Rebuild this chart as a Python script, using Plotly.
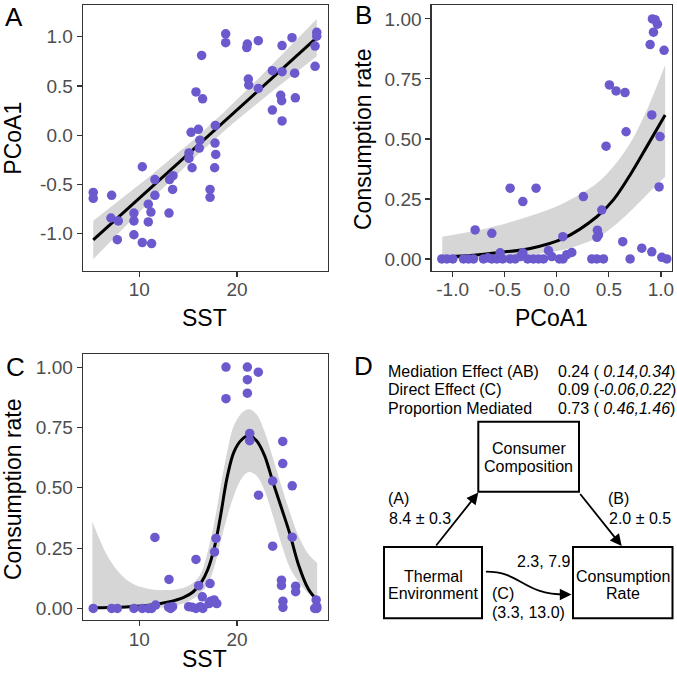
import numpy as np
import plotly.graph_objects as go

W, H = 677, 682
FONT = "Liberation Sans, Arial, Helvetica, sans-serif"
PT_COLOR = "#6A5ACD"
RIBBON = "rgba(153,153,153,0.4)"

# ---------------- Panel A data: SST vs PCoA1 ----------------
sst_a = [5.29, 5.29, 7.17, 7.10, 7.85, 7.75, 9.45, 9.45, 9.45, 10.31, 10.31, 11.26,
         10.92, 11.19, 10.92, 11.6, 11.6, 13.04, 13.10, 13.45, 13.41, 15.08, 15.08,
         15.30, 16.05, 15.40, 15.80, 16.48, 16.20, 16.14, 16.38, 17.78, 17.75, 17.82,
         17.71, 17.24, 17.24, 18.84, 18.84, 21.06, 21.00, 22.18, 21.16, 21.20, 22.18,
         23.62, 23.62, 24.61, 24.61, 24.47, 24.57, 24.61, 25.63, 25.90, 25.97, 28.16,
         28.16, 27.99, 27.99]
pcoa_a = [-0.58, -0.64, -0.61, -0.84, -0.87, -1.06, -0.79, -0.87, -1.01, -0.32, -1.09, -1.10,
          -0.70, -0.78, -0.88, -0.45, -0.61, -0.79, -0.45, -0.41, -0.55, -0.18, -0.235,
          0.03, 0.06, -0.33, 0.44, 0.37, -0.05, -0.13, 0.81, 0.10, -0.08, -0.195,
          -0.33, -0.55, -0.63, 1.03, 0.94, 0.925, 0.89, 0.96, 0.57, 0.51, 0.475,
          0.655, 0.255, 0.91, 0.645, 0.405, 0.35, 0.145, 0.99, 0.63, 0.38, 1.045,
          1.005, 0.905, 0.70]

# ---------------- Panel B data: PCoA1 vs consumption rate ----------------
pcoa_b = [-1.104, -1.056, -0.998, -0.896, -0.848, -0.800, -0.704, -0.660, -0.624, -0.576,
          -0.544, -0.520, -0.448, -0.400, -0.350, -0.326, -0.280, -0.224, -0.176, -0.128,
          -0.080, -0.048, 0.025, 0.060, 0.096, 0.144, 0.336, 0.384, 0.448, 0.704,
          1.008, 1.056,
          -0.784, -0.624, -0.448, -0.326, -0.199, 0.058, 0.255, 0.432, 0.390, 0.400,
          0.385, 0.473, 0.505, 0.569, 0.655, 0.665, 0.633, 0.816, 0.912, 0.912,
          0.991, 0.982, 0.918, 0.944, 0.966, 0.928, 0.896, 1.030]
cons_b = [0.0, 0.0, 0.0, 0.0, 0.0, 0.0, 0.0, 0.005, 0.0, 0.0,
          0.026, 0.0, 0.0, 0.0, 0.01, 0.026, 0.0, 0.0, 0.0, 0.0,
          0.035, 0.01, 0.0, 0.0, 0.018, 0.027, 0.0, 0.0, 0.0, 0.0,
          0.007, 0.0,
          0.121, 0.107, 0.295, 0.239, 0.295, 0.093, 0.26, 0.204, 0.12, 0.10,
          0.09, 0.47, 0.725, 0.70, 0.693, 0.53, 0.072, 0.045, 0.030, 0.60,
          0.51, 0.30, 1.0, 0.997, 0.978, 0.945, 0.893, 0.869]

# fitted curve and confidence band
fitx_b = [-1.10, -0.80, -0.576, -0.256, 0.064, 0.384, 0.543, 0.704, 0.864, 1.04]
fit_b = [0.008, 0.016, 0.026, 0.044, 0.086, 0.176, 0.246, 0.35, 0.468, 0.60]
hi_b = [0.093, 0.115, 0.138, 0.179, 0.232, 0.315, 0.385, 0.482, 0.62, 0.808]
lo_b = [0.0, 0.002, 0.006, 0.017, 0.038, 0.087, 0.135, 0.198, 0.268, 0.343]

# ---------------- Panel C data: SST vs consumption rate ----------------
sst_c = [5.29, 7.17, 7.75, 9.45, 10.31, 10.92, 11.26, 11.67, 13.0, 13.41, 13.2,
         15.05, 15.4, 15.8, 16.25, 16.5, 17.14, 17.66, 17.93, 16.45, 17.3,
         11.6, 13.04, 15.8, 16.08, 17.24, 17.7, 17.85,
         18.87, 18.87, 21.06, 21.06, 21.06, 22.18, 21.3, 21.3, 22.2,
         23.65, 23.65, 24.68, 24.68, 24.55, 24.55, 24.7, 24.7,
         25.65, 25.65, 26.0, 26.0, 28.1, 28.16, 28.16, 27.95]
cons_c = [0.0, 0.0, 0.0, 0.0, 0.0, 0.0, 0.0, 0.014, 0.005, 0.007, 0.0,
          0.007, 0.005, 0.0, 0.007, 0.0, 0.02, 0.035, 0.02, 0.048, 0.03,
          0.294, 0.12, 0.203, 0.094, 0.103, 0.234, 0.29,
          1.0, 0.869, 1.0, 0.948, 0.892, 0.979, 0.725, 0.695, 0.469,
          0.528, 0.258, 0.692, 0.6, 0.117, 0.095, 0.03, 0.004,
          0.508, 0.295, 0.092, 0.069, 0.035, 0.007, 0.0, 0.0]

fitx_c = [5.2, 7.0, 9.0, 11.0, 13.0, 14.5, 15.5, 16.3, 17.0, 17.7, 18.3, 19.0,
          19.7, 20.5, 21.2, 22.0, 22.8, 23.7, 24.6, 25.4, 26.3, 27.3, 28.2]
fit_c = [0.003, 0.004, 0.007, 0.013, 0.027, 0.045, 0.068, 0.105, 0.16, 0.255, 0.38, 0.545,
         0.65, 0.70, 0.715, 0.695, 0.635, 0.52, 0.41, 0.31, 0.18, 0.08, 0.033]
hi_c = [0.36, 0.20, 0.11, 0.08, 0.076, 0.085, 0.105, 0.145, 0.235, 0.36, 0.50, 0.65,
        0.76, 0.81, 0.825, 0.805, 0.735, 0.62, 0.50, 0.40, 0.30, 0.225, 0.188]
lo_c = [0.0, 0.0, 0.001, 0.002, 0.006, 0.02, 0.04, 0.065, 0.10, 0.175, 0.275, 0.38,
        0.47, 0.54, 0.565, 0.55, 0.49, 0.38, 0.26, 0.17, 0.11, 0.062, 0.038]

# tick labels
ticks_sst = [10, 20]
ticklab_sst = ["10", "20"]
ticks_pcoa = [-1.0, -0.5, 0.0, 0.5, 1.0]
ticklab_pcoa = ["-1.0", "-0.5", "0.0", "0.5", "1.0"]
ticks_rate = [0.0, 0.25, 0.5, 0.75, 1.0]
ticklab_rate = ["0.00", "0.25", "0.50", "0.75", "1.00"]

# mediation summary (panel D)
med_labels = ["Mediation Effect (AB)", "Direct Effect (C)", "Proportion Mediated"]
med_values = ["0.24 ( <i>0.14,0.34</i>)", "0.09 (<i>-0.06,0.22</i>)", "0.73 ( <i>0.46,1.46</i>)"]

# ---------------- helpers ----------------
def px(x):
    return x / W

def py(y):
    return 1 - y / H

fig = go.Figure()

# Panel A: linear model fit with 95% CI
xa = np.array(sst_a)
ya = np.array(pcoa_a)
n = len(xa)
b1, b0 = np.polyfit(xa, ya, 1)
resid = ya - (b0 + b1 * xa)
s = np.sqrt(np.sum(resid ** 2) / (n - 2))
xm = xa.mean()
sxx = np.sum((xa - xm) ** 2)
xg = np.linspace(xa.min(), xa.max(), 120)
yg = b0 + b1 * xg
half = 2.0 * s * np.sqrt(1.0 / n + (xg - xm) ** 2 / sxx)

fig.add_trace(go.Scatter(x=xg, y=yg - half, mode="lines", line=dict(width=0),
                         xaxis="x", yaxis="y", hoverinfo="skip"))
fig.add_trace(go.Scatter(x=xg, y=yg + half, mode="lines", line=dict(width=0),
                         fill="tonexty", fillcolor=RIBBON, xaxis="x", yaxis="y", hoverinfo="skip"))
fig.add_trace(go.Scatter(x=xg, y=yg, mode="lines", line=dict(color="black", width=3),
                         xaxis="x", yaxis="y"))
fig.add_trace(go.Scatter(x=sst_a, y=pcoa_a, mode="markers",
                         marker=dict(color=PT_COLOR, size=9.5, line=dict(width=0)),
                         xaxis="x", yaxis="y"))

# Panel B
fig.add_trace(go.Scatter(x=fitx_b, y=lo_b, mode="lines", line=dict(width=0, shape="spline"),
                         xaxis="x2", yaxis="y2", hoverinfo="skip"))
fig.add_trace(go.Scatter(x=fitx_b, y=hi_b, mode="lines", line=dict(width=0, shape="spline"),
                         fill="tonexty", fillcolor=RIBBON, xaxis="x2", yaxis="y2", hoverinfo="skip"))
fig.add_trace(go.Scatter(x=fitx_b, y=fit_b, mode="lines",
                         line=dict(color="black", width=3, shape="spline"),
                         xaxis="x2", yaxis="y2"))
fig.add_trace(go.Scatter(x=pcoa_b, y=cons_b, mode="markers",
                         marker=dict(color=PT_COLOR, size=9.5, line=dict(width=0)),
                         xaxis="x2", yaxis="y2"))

# Panel C
fig.add_trace(go.Scatter(x=fitx_c, y=lo_c, mode="lines", line=dict(width=0, shape="spline"),
                         xaxis="x3", yaxis="y3", hoverinfo="skip"))
fig.add_trace(go.Scatter(x=fitx_c, y=hi_c, mode="lines", line=dict(width=0, shape="spline"),
                         fill="tonexty", fillcolor=RIBBON, xaxis="x3", yaxis="y3", hoverinfo="skip"))
fig.add_trace(go.Scatter(x=fitx_c, y=fit_c, mode="lines",
                         line=dict(color="black", width=3, shape="spline"),
                         xaxis="x3", yaxis="y3"))
fig.add_trace(go.Scatter(x=sst_c, y=cons_c, mode="markers",
                         marker=dict(color=PT_COLOR, size=9.5, line=dict(width=0)),
                         xaxis="x3", yaxis="y3"))

axis_style = dict(showline=True, linecolor="#333333", linewidth=1.1, mirror=True,
                  ticks="outside", ticklen=5, tickwidth=1.1, tickcolor="#333333",
                  tickfont=dict(size=19, color="#4D4D4D", family=FONT),
                  showgrid=False, zeroline=False, fixedrange=True)
xaxis_style = dict(axis_style, ticklabelstandoff=-3)

xdomA = [px(82.7), px(327.7)]
xdomB = [px(431.5), px(672)]
ydomTop = [py(270.5), py(5)]
ydomC = [py(620), py(354.3)]

fig.update_layout(
    xaxis=dict(domain=xdomA, range=[4.21, 29.28], tickvals=ticks_sst, ticktext=ticklab_sst,
               anchor="y", **xaxis_style),
    yaxis=dict(domain=ydomTop, range=[-1.373, 1.322], tickvals=ticks_pcoa, ticktext=ticklab_pcoa,
               anchor="x", **axis_style),
    xaxis2=dict(domain=xdomB, range=[-1.203, 1.106], tickvals=ticks_pcoa, ticktext=ticklab_pcoa,
                anchor="y2", **xaxis_style),
    yaxis2=dict(domain=ydomTop, range=[-0.048, 1.058], tickvals=ticks_rate, ticktext=ticklab_rate,
                anchor="x2", **axis_style),
    xaxis3=dict(domain=xdomA, range=[4.21, 29.28], tickvals=ticks_sst, ticktext=ticklab_sst,
                anchor="y3", **xaxis_style),
    yaxis3=dict(domain=ydomC, range=[-0.048, 1.053], tickvals=ticks_rate, ticktext=ticklab_rate,
                anchor="x3", **axis_style),
)

ann = []

def text(x, y, t, size=16, xanchor="center", angle=0, color="black"):
    ann.append(dict(x=px(x), y=py(y), xref="paper", yref="paper", text=t, showarrow=False,
                    xanchor=xanchor, yanchor="middle", textangle=angle,
                    font=dict(size=size, color=color, family=FONT)))

# panel letters
text(14, 17, "A", 26)
text(363, 15, "B", 26)
text(15, 367, "C", 26)
text(363, 366, "D", 26)

# axis titles
text(205, 318, "SST", 23)
text(12.7, 138, "PCoA1", 23, angle=-90)
text(551.8, 318, "PCoA1", 23)
text(363, 139, "Consumption rate", 23, angle=-90)
text(205, 659, "SST", 23)
text(13, 489, "Consumption rate", 23, angle=-90)

# panel D texts
for i, (lab, val) in enumerate(zip(med_labels, med_values)):
    yy = 371 + i * 18.8
    text(385.5, yy, lab, 16, xanchor="left")
    text(555.5, yy, val, 16, xanchor="left")

text(528.7, 448, "Consumer")
text(528.7, 466.7, "Composition")
text(433, 576, "Thermal")
text(433, 593.3, "Environment")
text(623, 576, "Consumption")
text(623, 593.3, "Rate")
text(385.5, 498.3, "(A)", xanchor="left")
text(387, 518.3, "8.4 ± 0.3", xanchor="left")
text(605.5, 498.3, "(B)", xanchor="left")
text(607, 518.3, "2.0 ± 0.5", xanchor="left")
text(515, 561.7, "2.3, 7.9", xanchor="left")
text(490, 593, "(C)", xanchor="left")
text(490, 612.3, "(3.3, 13.0)", xanchor="left")

# arrows (head at x,y; tail offset in pixels)
def arrow(x_tail, y_tail, x_head, y_head):
    ann.append(dict(x=px(x_head), y=py(y_head), xref="paper", yref="paper",
                    ax=x_tail - x_head, ay=y_tail - y_head, axref="pixel", ayref="pixel",
                    text="", showarrow=True, arrowhead=2, arrowsize=1.3, arrowwidth=1.8,
                    arrowcolor="black", standoff=0, startstandoff=0))

arrow(435, 547, 478.3, 492.5)
arrow(579, 492.5, 621.7, 546)
arrow(562, 594.5, 571.5, 594.5)

fig.update_layout(annotations=ann)

# boxes
shapes = []
def box(x0, y0, x1, y1):
    shapes.append(dict(type="rect", xref="paper", yref="paper",
                       x0=px(x0), x1=px(x1), y0=py(y1), y1=py(y0),
                       line=dict(color="black", width=2), fillcolor="rgba(0,0,0,0)"))

box(478.3, 421.7, 579, 491.7)
box(384, 547, 482, 618.3)
box(573, 547, 672.5, 618.3)

# curved direct-effect arrow
pts = [(486, 571.7), (522, 571.7), (522, 594.5), (566, 594.5)]
path = "M {:.5f},{:.5f} C {:.5f},{:.5f} {:.5f},{:.5f} {:.5f},{:.5f}".format(
    px(pts[0][0]), py(pts[0][1]), px(pts[1][0]), py(pts[1][1]),
    px(pts[2][0]), py(pts[2][1]), px(pts[3][0]), py(pts[3][1]))
shapes.append(dict(type="path", xref="paper", yref="paper", path=path,
                   line=dict(color="black", width=1.8)))

fig.update_layout(shapes=shapes)

fig.update_layout(width=W, height=H, autosize=False, margin=dict(l=0, r=0, t=0, b=0),
                  paper_bgcolor="white", plot_bgcolor="white", showlegend=False,
                  template="none", font=dict(family=FONT))

fig.write_html("out.html",
               config={"displayModeBar": False, "staticPlot": True},
               post_script="document.body.style.margin='0';document.body.style.padding='0';"
                           "document.body.style.overflow='hidden';")
